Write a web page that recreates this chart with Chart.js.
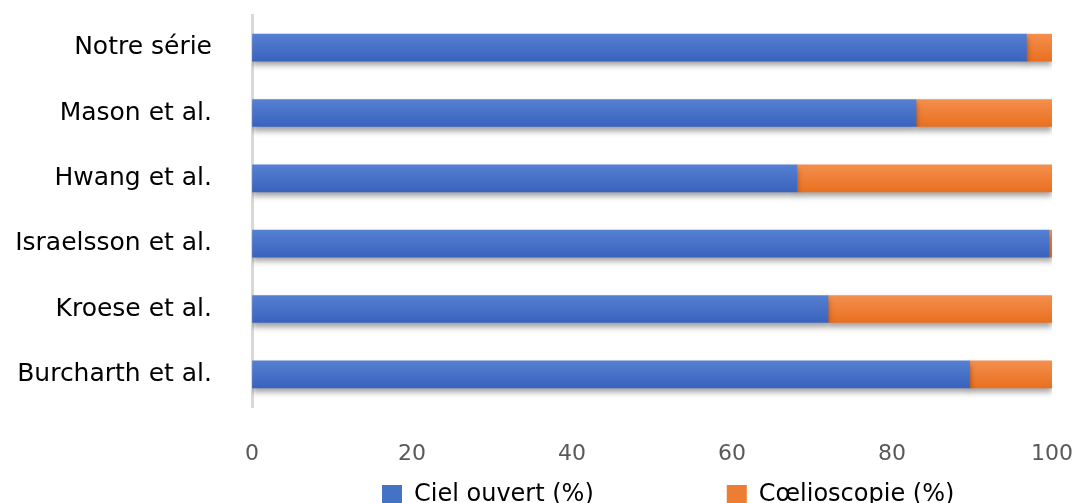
<!DOCTYPE html>
<html>
<head>
<meta charset="utf-8">
<script src="https://cdn.jsdelivr.net/npm/chart.js@4/dist/chart.umd.min.js"></script>
<style>
  html, body { margin: 0; padding: 0; background: #ffffff; overflow: hidden; }
  #wrap { width: 1075px; height: 503px; }
</style>
</head>
<body>
<div id="wrap"><canvas id="c" width="1075" height="503"></canvas></div>
<script>
// Share of open vs laparoscopic approach per study (%)
const categories = ['Notre série', 'Mason et al.', 'Hwang et al.', 'Israelsson et al.', 'Kroese et al.', 'Burcharth et al.'];
const cielOuvert = [96.8, 83, 68.1, 99.6, 72, 89.7];
const coelioscopie = [3.2, 17, 31.9, 0.4, 28, 10.3];
const xTicks = [0, 20, 40, 60, 80, 100];
const seriesNames = ['Ciel ouvert (%)', 'Cœlioscopie (%)'];

const FONT = "'DejaVu Sans', 'Noto Sans', sans-serif";
const BLUE = { top: '#5680d2', bottom: '#3962bd', flat: '#4472c4' };
const ORANGE = { top: '#f48f4e', bottom: '#e96f1f', flat: '#ed7d31' };

// Vertical shading for each bar, centred on its category band
function barFill(palette) {
  return (ctx) => {
    const chart = ctx.chart;
    const y = chart.scales && chart.scales.y;
    if (ctx.type !== 'data' || !y) return palette.flat;
    const yc = y.getPixelForValue(ctx.dataIndex);
    const g = chart.ctx.createLinearGradient(0, yc - 14, 0, yc + 14);
    g.addColorStop(0, palette.top);
    g.addColorStop(1, palette.bottom);
    return g;
  };
}

// Soft drop shadow under the bars
const barShadow = {
  id: 'barShadow',
  beforeDatasetsDraw(chart) {
    const c = chart.ctx;
    c.save();
    c.shadowColor = 'rgba(0,0,0,0.38)';
    c.shadowBlur = 6;
    c.shadowOffsetY = 4;
  },
  afterDatasetsDraw(chart) {
    chart.ctx.restore();
  }
};

// Legend row: first swatch at x=382, swatch top at y=485
const legendPlacement = {
  id: 'legendPlacement',
  afterLayout(chart) {
    const lg = chart.legend;
    if (!lg || !lg.lineWidths) return;
    const pad = lg.options.labels.padding;
    const start = (lg.left + pad + lg.right - lg.lineWidths[0]) / 2;
    const dx = 382 - start;
    lg.left += dx;
    lg.right += dx;
    lg.top = 483 - pad;
    lg.bottom = chart.height;
  }
};

// Invisible tick marks, used only to push labels away from the plot
const hiddenTicks = (len) => ({ display: true, drawOnChartArea: false, drawTicks: true, tickLength: len, tickColor: 'rgba(0,0,0,0)', color: 'rgba(0,0,0,0)' });

new Chart(document.getElementById('c'), {
  type: 'bar',
  data: {
    labels: categories,
    datasets: [
      { label: seriesNames[0], data: cielOuvert, backgroundColor: barFill(BLUE), borderWidth: 0, barThickness: 27 },
      { label: seriesNames[1], data: coelioscopie, backgroundColor: barFill(ORANGE), borderWidth: 0, barThickness: 27 }
    ]
  },
  options: {
    indexAxis: 'y',
    responsive: false,
    animation: false,
    devicePixelRatio: 1,
    layout: { padding: { top: 15, right: 23, bottom: 0, left: 0 } },
    scales: {
      x: {
        stacked: true,
        min: 0,
        max: 100,
        afterBuildTicks(scale) { scale.ticks = xTicks.map(v => ({ value: v })); },
        afterFit(scale) { scale.height = 59; },
        grid: hiddenTicks(34),
        border: { display: false },
        ticks: { padding: 0, color: '#595959', font: { family: FONT, size: 22 } }
      },
      y: {
        stacked: true,
        afterFit(scale) { scale.width = 252; },
        grid: hiddenTicks(40),
        border: { display: true, color: '#d9d9d9', width: 3 },
        ticks: { padding: 0, color: '#000000', font: { family: FONT, size: 25 } }
      }
    },
    plugins: {
      tooltip: { enabled: false },
      legend: {
        position: 'bottom',
        maxHeight: 37,
        labels: {
          boxWidth: 20,
          boxHeight: 20,
          padding: 133,
          color: '#000000',
          font: { family: FONT, size: 24 },
          generateLabels(chart) {
            const flats = [BLUE.flat, ORANGE.flat];
            return chart.data.datasets.map((ds, i) => ({
              text: ds.label,
              fillStyle: flats[i],
              strokeStyle: flats[i],
              lineWidth: 0,
              hidden: false,
              datasetIndex: i
            }));
          }
        }
      }
    }
  },
  plugins: [barShadow, legendPlacement]
});
</script>
</body>
</html>
